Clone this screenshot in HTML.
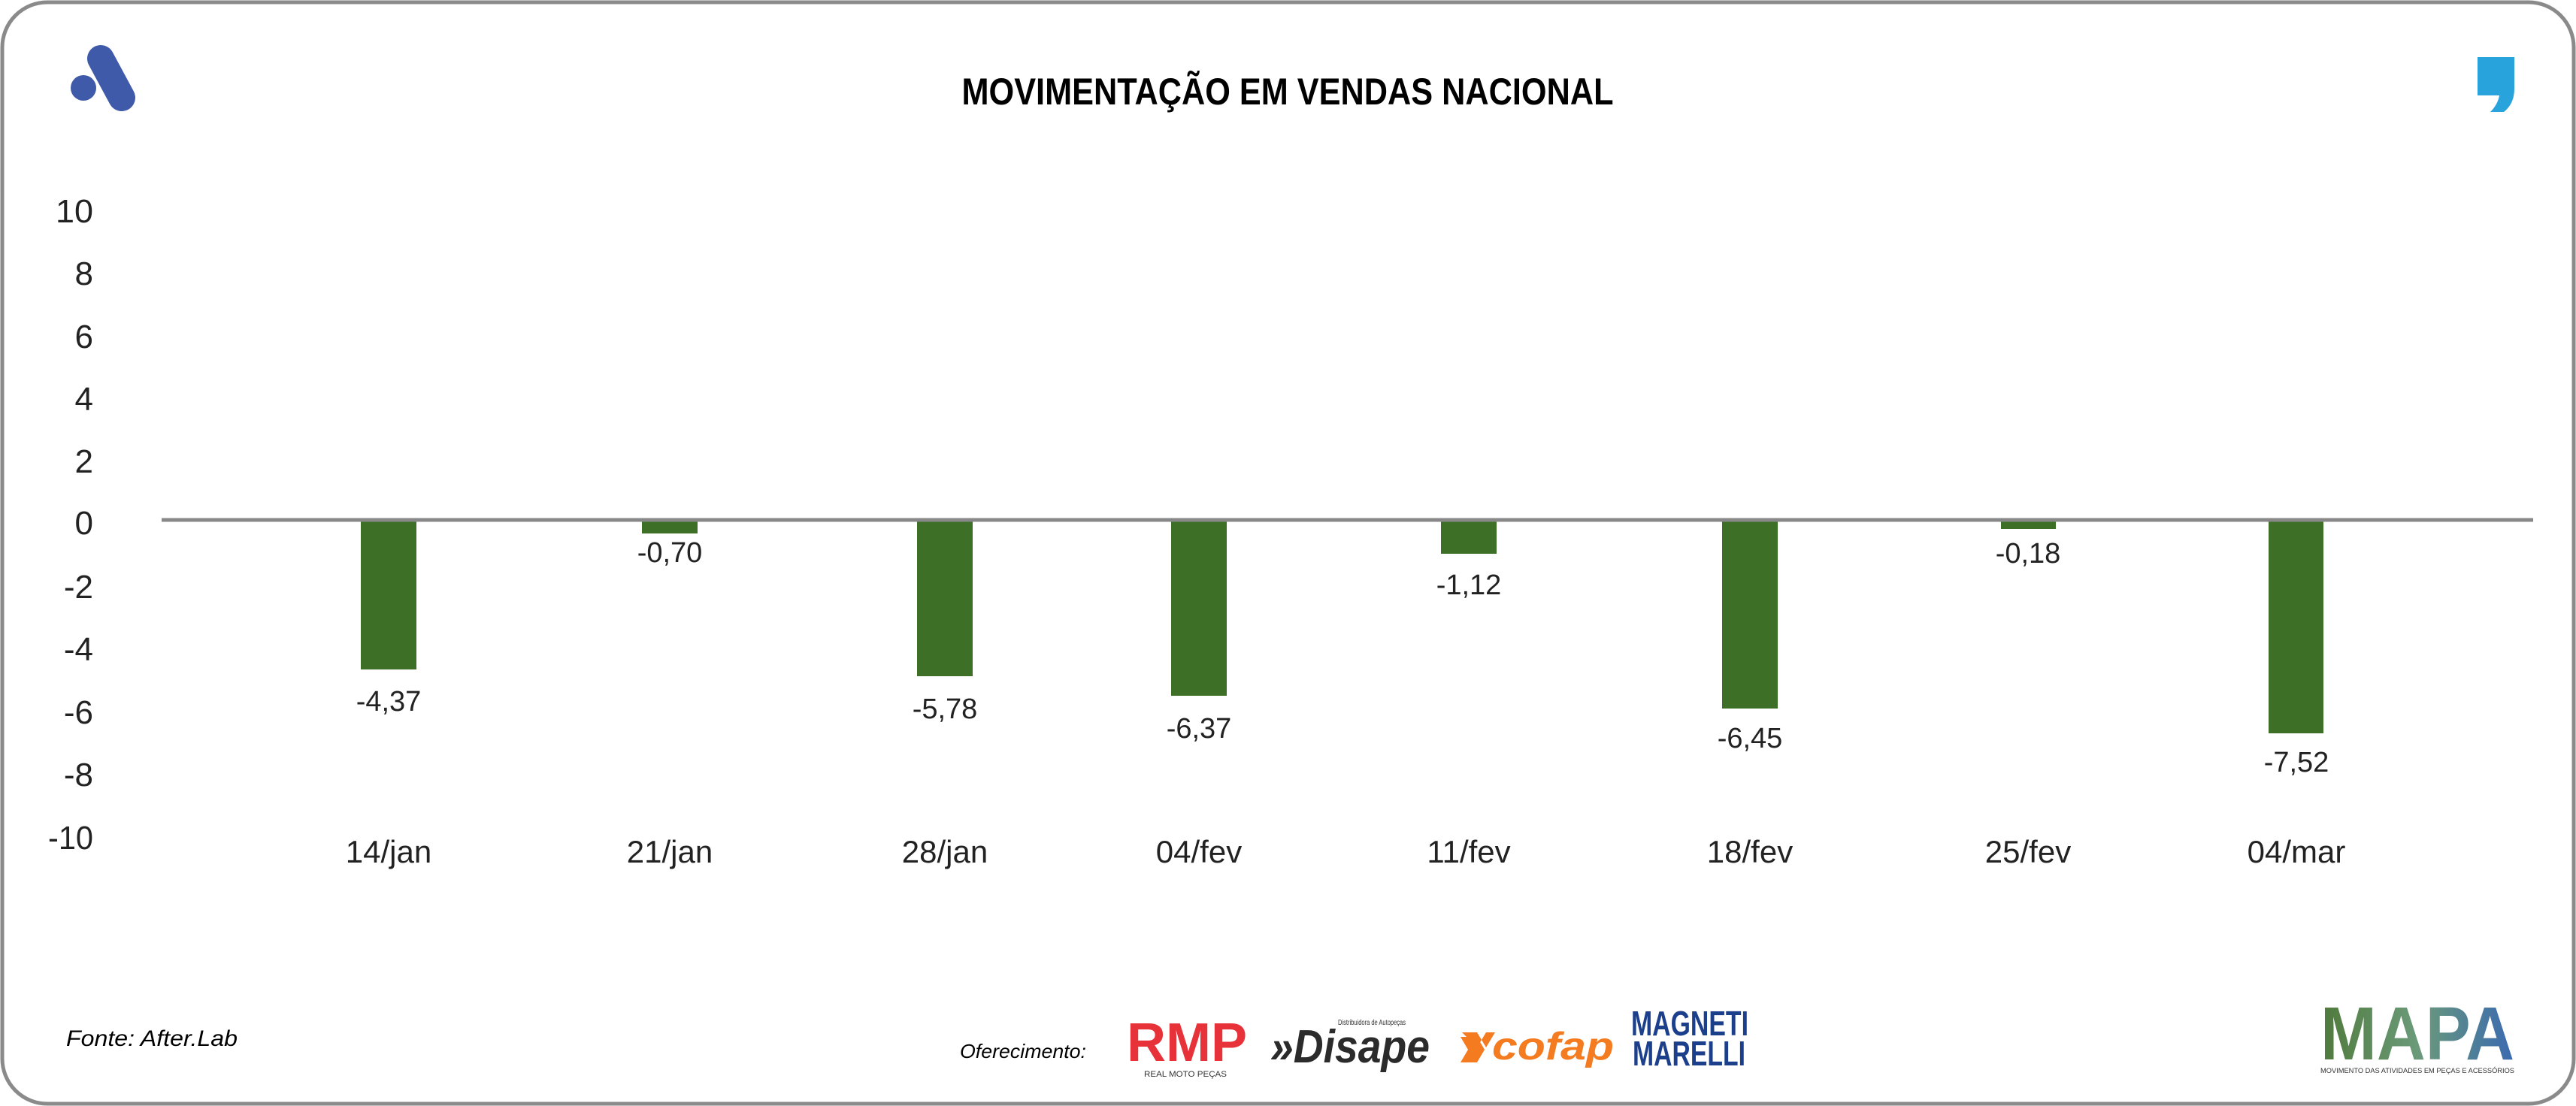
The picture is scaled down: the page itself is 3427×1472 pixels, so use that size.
<!DOCTYPE html>
<html><head><meta charset="utf-8"><style>
html,body{margin:0;padding:0;background:#fff;}
svg{display:block;}
text{font-family:"Liberation Sans",sans-serif;}
</style></head><body>
<svg width="3427" height="1472" viewBox="0 0 3427 1472" xmlns="http://www.w3.org/2000/svg">
<rect x="3" y="3" width="3421" height="1466" rx="60" ry="60" fill="#fff" stroke="#8a8a8a" stroke-width="5"/>
<circle cx="111" cy="117" r="17" fill="#3f5aa9"/>
<line x1="134" y1="78" x2="162" y2="130" stroke="#3f5aa9" stroke-width="36" stroke-linecap="round"/>
<path d="M3296 76 h49 v42 q0 20 -14 31 h-18 q10 -10 12 -22 h-29 z" fill="#29a3dc"/>
<text x="1713" y="139" text-anchor="middle" font-size="50" font-weight="bold" textLength="867" lengthAdjust="spacingAndGlyphs">MOVIMENTAÇÃO EM VENDAS NACIONAL</text>
<g font-size="44" text-anchor="end" fill="#222">
<text x="124" y="296" textLength="50" lengthAdjust="spacingAndGlyphs">10</text>
<text x="124" y="379">8</text>
<text x="124" y="463">6</text>
<text x="124" y="546">4</text>
<text x="124" y="629">2</text>
<text x="124" y="711">0</text>
<text x="124" y="796">-2</text>
<text x="124" y="879">-4</text>
<text x="124" y="963">-6</text>
<text x="124" y="1046">-8</text>
<text x="124" y="1130" textLength="60" lengthAdjust="spacingAndGlyphs">-10</text>
</g>
<g fill="#3d7026">
<rect x="480" y="693" width="74" height="198"/>
<rect x="854" y="693" width="74" height="17"/>
<rect x="1220" y="693" width="74" height="207"/>
<rect x="1558" y="693" width="74" height="233"/>
<rect x="1917" y="693" width="74" height="44"/>
<rect x="2291" y="693" width="74" height="250"/>
<rect x="2662" y="693" width="73" height="11"/>
<rect x="3018" y="693" width="73" height="283"/>
</g>
<line x1="215" y1="692" x2="3370" y2="692" stroke="#888" stroke-width="5"/>
<g font-size="38" text-anchor="middle" fill="#222">
<text x="517" y="946">-4,37</text>
<text x="891" y="748">-0,70</text>
<text x="1257" y="956">-5,78</text>
<text x="1595" y="982">-6,37</text>
<text x="1954" y="791">-1,12</text>
<text x="2328" y="995">-6,45</text>
<text x="2698" y="749">-0,18</text>
<text x="3055" y="1027">-7,52</text>
</g>
<g font-size="42" text-anchor="middle" fill="#222">
<text x="517" y="1148">14/jan</text>
<text x="891" y="1148">21/jan</text>
<text x="1257" y="1148">28/jan</text>
<text x="1595" y="1148">04/fev</text>
<text x="1954" y="1148">11/fev</text>
<text x="2328" y="1148">18/fev</text>
<text x="2698" y="1148">25/fev</text>
<text x="3055" y="1148">04/mar</text>
</g>
<text x="88" y="1392" font-size="30" font-style="italic" textLength="228" lengthAdjust="spacingAndGlyphs">Fonte: After.Lab</text>
<text x="1277" y="1408" font-size="26" font-style="italic" textLength="168" lengthAdjust="spacingAndGlyphs">Oferecimento:</text>
<text x="1499" y="1412" font-size="72" font-weight="bold" fill="#e8323a" textLength="160" lengthAdjust="spacingAndGlyphs">RMP</text>
<text x="1522" y="1433" font-size="11" fill="#333" textLength="110" lengthAdjust="spacingAndGlyphs">REAL MOTO PEÇAS</text>
<text x="1690" y="1414" font-size="62" font-weight="bold" font-style="italic" fill="#2b2b2b" textLength="212" lengthAdjust="spacingAndGlyphs">»Disape</text>
<text x="1780" y="1364" font-size="10" fill="#333" textLength="90" lengthAdjust="spacingAndGlyphs">Distribuidora de Autopeças</text>
<path d="M1945 1374 h20 l12 20 l12 -20 h-12 l-12 20 z M1943 1380 h22 l10 17 l-10 17 h-22 l10 -17 z" fill="#f47b20"/>
<text x="1985" y="1410" font-size="52" font-weight="bold" font-style="italic" fill="#f47b20" textLength="162" lengthAdjust="spacingAndGlyphs">cofap</text>
<text x="2170" y="1378" font-size="46" font-weight="bold" fill="#1c3f8c" textLength="156" lengthAdjust="spacingAndGlyphs">MAGNETI</text>
<text x="2172" y="1418" font-size="46" font-weight="bold" fill="#1c3f8c" textLength="150" lengthAdjust="spacingAndGlyphs">MARELLI</text>
<defs><linearGradient id="mg" x1="0" x2="1" y1="0" y2="0"><stop offset="0" stop-color="#4f7a3a"/><stop offset="0.5" stop-color="#6b9a7a"/><stop offset="1" stop-color="#3a6ab0"/></linearGradient></defs>
<text x="3087" y="1410" font-size="100" font-weight="bold" fill="url(#mg)" textLength="258" lengthAdjust="spacingAndGlyphs">MAPA</text>
<text x="3087" y="1428" font-size="9" fill="#333" textLength="258" lengthAdjust="spacingAndGlyphs">MOVIMENTO DAS ATIVIDADES EM PEÇAS E ACESSÓRIOS</text>
</svg>
</body></html>
